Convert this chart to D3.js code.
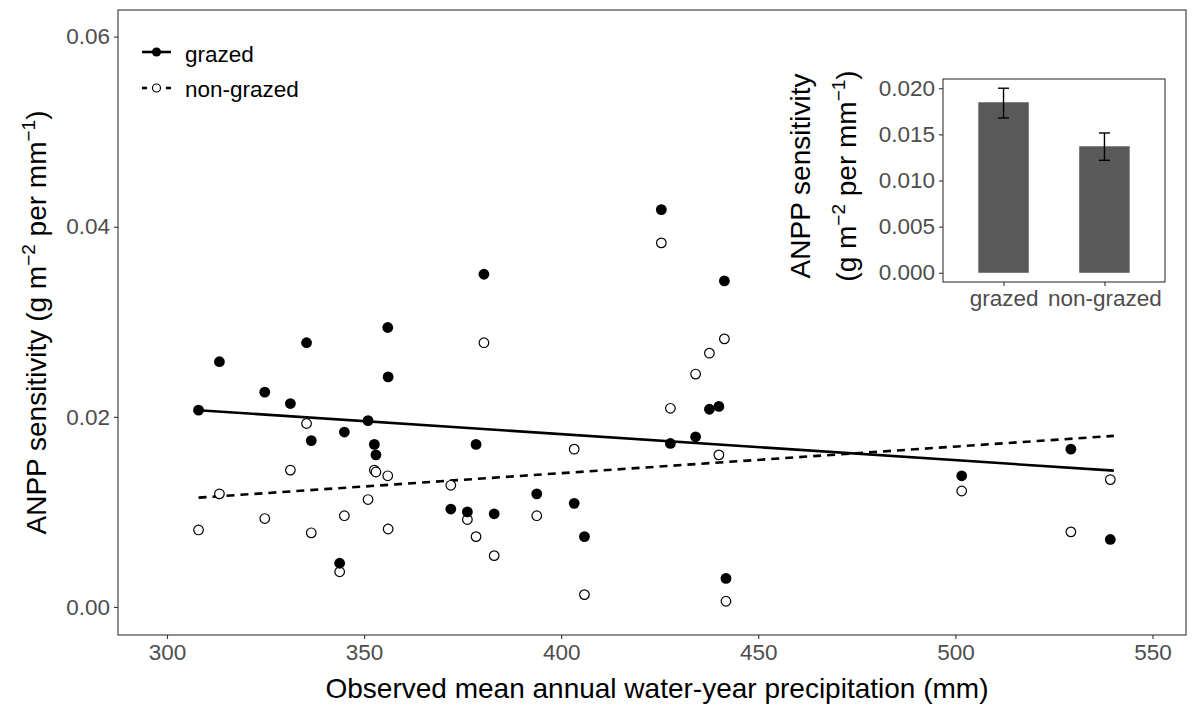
<!DOCTYPE html>
<html>
<head>
<meta charset="utf-8">
<script src="https://cdn.jsdelivr.net/npm/d3@7"></script>
<style>
  html, body { margin: 0; padding: 0; background: #fff; }
  svg { display: block; font-family: "Liberation Sans", Arial, sans-serif; }
</style>
</head>
<body>
<svg id="chart" width="1196" height="707"></svg>
<script>
// ---- data ----
const precip = [308.0, 313.3, 324.8, 331.3, 335.4, 336.6, 343.8, 345.0, 351.0, 352.6, 353.0, 356.0, 356.1,
  372.0, 376.2, 378.4, 380.4, 383.0, 393.8, 403.3, 405.9, 425.4, 427.7, 434.1, 437.6, 440.0, 441.4, 441.8,
  501.6, 529.3, 539.3];
const grazed = [0.0207, 0.0258, 0.0226, 0.0214, 0.0278, 0.0175, 0.0046, 0.0184, 0.0196, 0.0171, 0.0160, 0.0294, 0.0242,
  0.0103, 0.0100, 0.0171, 0.0350, 0.0098, 0.0119, 0.0109, 0.0074, 0.0418, 0.0172, 0.0179, 0.0208, 0.0211, 0.0343, 0.0030,
  0.0138, 0.0166, 0.0071];
const nonGrazed = [0.0081, 0.0119, 0.0093, 0.0144, 0.0193, 0.0078, 0.0037, 0.0096, 0.0113, 0.0144, 0.0142, 0.0138, 0.0082,
  0.0128, 0.0092, 0.0074, 0.0278, 0.0054, 0.0096, 0.0166, 0.0013, 0.0383, 0.0209, 0.0245, 0.0267, 0.0160, 0.0282, 0.0006,
  0.0122, 0.0079, 0.0134];
// fitted trend lines (value at min and max precipitation)
const fitX = [308.0, 540.2];
const fitGrazed = [0.0207, 0.01434];
const fitNonGrazed = [0.0115, 0.0180];
const xTicks = [300, 350, 400, 450, 500, 550];
const yTicks = [0.00, 0.02, 0.04, 0.06];

// inset
const groups = ["grazed", "non-grazed"];
const means = [0.01848, 0.01371];
const errLow = [0.01678, 0.01219];
const errHigh = [0.02000, 0.01515];
const insetTicks = [0.000, 0.005, 0.010, 0.015, 0.020];

// ---- drawing ----
const svg = d3.select("#chart");
const P = { l: 118, t: 10, r: 1186, b: 635 };
const x = d3.scaleLinear().domain([287.57, 558.5]).range([P.l, P.r]);
const y = d3.scaleLinear().domain([-0.00295, 0.0628]).range([P.b, P.t]);

const tickColor = "#4d4d4d", frameColor = "#333333";
const TICK_FS = 22.5, TITLE_FS = 28, SUP_FS = 19;

// axes
const xAxis = d3.axisBottom(x).tickValues(xTicks).tickSize(4).tickPadding(5).tickFormat(d3.format("d"));
const gx = svg.append("g").attr("transform", `translate(0,${P.b})`).call(xAxis);
const yAxis = d3.axisLeft(y).tickValues(yTicks).tickSize(4).tickPadding(4).tickFormat(d3.format(".2f"));
const gy = svg.append("g").attr("transform", `translate(${P.l},0)`).call(yAxis);
[gx, gy].forEach(g => {
  g.select(".domain").remove();
  g.selectAll(".tick line").attr("stroke", frameColor).attr("stroke-width", 1.1);
  g.selectAll(".tick text").attr("fill", tickColor).attr("font-size", TICK_FS).attr("font-family", "Liberation Sans, Arial, sans-serif");
});

// panel frame
svg.append("rect").attr("x", P.l).attr("y", P.t).attr("width", P.r - P.l).attr("height", P.b - P.t)
  .attr("fill", "none").attr("stroke", frameColor).attr("stroke-width", 1.1);

// axis titles
svg.append("text").attr("x", 657).attr("y", 698).attr("text-anchor", "middle")
  .attr("font-size", TITLE_FS).attr("fill", "#000").text("Observed mean annual water-year precipitation (mm)");

function sensTitle(sel, prefix) {
  sel.append("tspan").text(prefix + "g m");
  sel.append("tspan").attr("dy", -11).attr("font-size", SUP_FS).text("\u22122");
  sel.append("tspan").attr("dy", 11).text(" per mm");
  sel.append("tspan").attr("dy", -11).attr("font-size", SUP_FS).text("\u22121");
  sel.append("tspan").attr("dy", 11).text(")");
}
const yt = svg.append("text").attr("transform", `translate(46,${(P.t + P.b) / 2}) rotate(-90)`)
  .attr("text-anchor", "middle").attr("font-size", TITLE_FS).attr("fill", "#000");
sensTitle(yt, "ANPP sensitivity (");

// trend lines
const line = d3.line().x(d => x(d[0])).y(d => y(d[1]));
svg.append("path").datum(fitX.map((v, i) => [v, fitGrazed[i]])).attr("d", line)
  .attr("fill", "none").attr("stroke", "#000").attr("stroke-width", 2.6);
svg.append("path").datum(fitX.map((v, i) => [v, fitNonGrazed[i]])).attr("d", line)
  .attr("fill", "none").attr("stroke", "#000").attr("stroke-width", 2.6).attr("stroke-dasharray", "8,6");

// points
svg.append("g").selectAll("circle").data(precip.map((p, i) => [p, nonGrazed[i]])).join("circle")
  .attr("cx", d => x(d[0])).attr("cy", d => y(d[1])).attr("r", 4.8)
  .attr("fill", "#fff").attr("stroke", "#000").attr("stroke-width", 1.2);
svg.append("g").selectAll("circle").data(precip.map((p, i) => [p, grazed[i]])).join("circle")
  .attr("cx", d => x(d[0])).attr("cy", d => y(d[1])).attr("r", 5.4)
  .attr("fill", "#000");

// legend
const lg = svg.append("g");
lg.append("line").attr("x1", 142).attr("x2", 171).attr("y1", 52).attr("y2", 52).attr("stroke", "#000").attr("stroke-width", 2.6);
lg.append("circle").attr("cx", 156.5).attr("cy", 52).attr("r", 4.6).attr("fill", "#000");
lg.append("line").attr("x1", 142).attr("x2", 171).attr("y1", 88).attr("y2", 88).attr("stroke", "#000").attr("stroke-width", 2.6).attr("stroke-dasharray", "5,19");
lg.append("circle").attr("cx", 156.5).attr("cy", 88).attr("r", 4).attr("fill", "#fff").attr("stroke", "#000").attr("stroke-width", 1.2);
lg.append("text").attr("x", 185).attr("y", 54).attr("dy", "0.35em").attr("font-size", TICK_FS).text("grazed");
lg.append("text").attr("x", 185).attr("y", 89).attr("dy", "0.35em").attr("font-size", TICK_FS).text("non-grazed");

// ---- inset ----
const I = { l: 943, t: 79, r: 1165, b: 282 };
const ixc = d3.scalePoint().domain(groups).range([I.l, I.r]).padding(0.6);
const iy = d3.scaleLinear().domain([-0.001, 0.021]).range([I.b, I.t]);
const bw = (ixc(groups[1]) - ixc(groups[0])) * 0.5;

svg.append("rect").attr("x", I.l).attr("y", I.t).attr("width", I.r - I.l).attr("height", I.b - I.t)
  .attr("fill", "#fff").attr("stroke", frameColor).attr("stroke-width", 1.1);

svg.append("g").selectAll("rect").data(groups).join("rect")
  .attr("x", d => ixc(d) - bw / 2).attr("width", bw)
  .attr("y", (d, i) => iy(means[i])).attr("height", (d, i) => iy(0) - iy(means[i]))
  .attr("fill", "#595959");

const eb = svg.append("g").attr("stroke", "#000").attr("stroke-width", 1.4);
groups.forEach((g, i) => {
  const cx = ixc(g);
  eb.append("line").attr("x1", cx).attr("x2", cx).attr("y1", iy(errLow[i])).attr("y2", iy(errHigh[i]));
  eb.append("line").attr("x1", cx - 5.5).attr("x2", cx + 5.5).attr("y1", iy(errLow[i])).attr("y2", iy(errLow[i]));
  eb.append("line").attr("x1", cx - 5.5).attr("x2", cx + 5.5).attr("y1", iy(errHigh[i])).attr("y2", iy(errHigh[i]));
});

const igx = svg.append("g").attr("transform", `translate(0,${I.b})`)
  .call(d3.axisBottom(ixc).tickSize(4).tickPadding(4));
const igy = svg.append("g").attr("transform", `translate(${I.l},0)`)
  .call(d3.axisLeft(iy).tickValues(insetTicks).tickSize(4).tickPadding(4).tickFormat(d3.format(".3f")));
[igx, igy].forEach(g => {
  g.select(".domain").remove();
  g.selectAll(".tick line").attr("stroke", frameColor).attr("stroke-width", 1.1);
  g.selectAll(".tick text").attr("fill", tickColor).attr("font-size", TICK_FS).attr("font-family", "Liberation Sans, Arial, sans-serif");
});

svg.append("text").attr("transform", `translate(810,176) rotate(-90)`)
  .attr("text-anchor", "middle").attr("font-size", TITLE_FS).attr("fill", "#000").text("ANPP sensitivity");
const it2 = svg.append("text").attr("transform", `translate(856,176) rotate(-90)`)
  .attr("text-anchor", "middle").attr("font-size", TITLE_FS).attr("fill", "#000");
sensTitle(it2, "(");
</script>
</body>
</html>
